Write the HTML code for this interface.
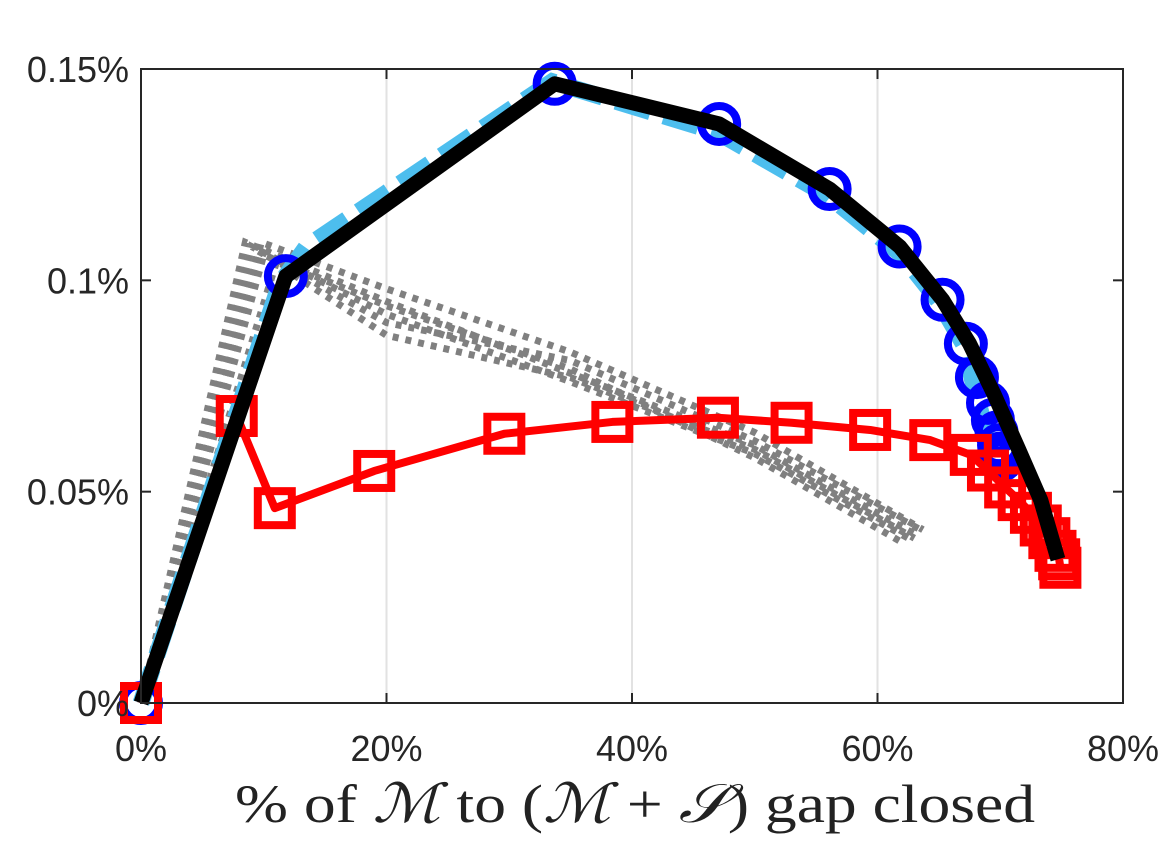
<!DOCTYPE html>
<html><head><meta charset="utf-8"><style>
body{margin:0;background:#fff;}
svg{display:block;}
</style></head><body>
<svg id="chart" width="1172" height="859" font-family="Liberation Sans, sans-serif">
<g id="grid"></g><g id="series"></g><g id="axes"></g>
<text x="235" y="822" textLength="800" lengthAdjust="spacingAndGlyphs" font-family="Liberation Serif, DejaVu Serif, serif" font-size="54" fill="#222">% of <tspan font-style="italic">ℳ</tspan> to (<tspan font-style="italic">ℳ</tspan> + <tspan font-style="italic">𝒮</tspan>) gap closed</text>
</svg>
<script>
const xTicks=[0,20,40,60,80];
const xTickLabels=['0%','20%','40%','60%','80%'];
const yTicks=[0,0.05,0.1,0.15];
const yTickLabels=['0%','0.05%','0.1%','0.15%'];
const cyanX=[0,11.3,13.5,33.5,47.0,56.0,62.0,65.0,67.0,69.0];
const cyanY=[0,0.099,0.108,0.147,0.135,0.120,0.106,0.095,0.085,0.062];
const blueX=[0,11.8,33.7,47.1,56.1,61.8,65.3,67.2,68.1,69.0,69.4,69.7,69.9,70.0,70.1];
const blueY=[0,0.101,0.1465,0.137,0.1216,0.108,0.0954,0.085,0.0771,0.071,0.067,0.064,0.061,0.059,0.0575];
const blackX=[0,11.8,33.7,47.1,56.1,61.8,65.3,67.5,69.5,71.5,73.3,74.7];
const blackY=[0,0.101,0.1465,0.137,0.1216,0.108,0.0954,0.085,0.073,0.060,0.048,0.034];
const redX=[0,7.8,10.9,19.0,29.6,38.4,47.0,53.0,59.4,64.3,67.6,69.0,70.4,71.5,72.5,73.3,74.0,74.5,74.8,74.9];
const redY=[0,0.0679,0.0461,0.0549,0.0637,0.0665,0.0675,0.0663,0.0646,0.0622,0.0587,0.055,0.051,0.048,0.045,0.042,0.039,0.036,0.034,0.032];
const grayX=[[0,8.5,20,35,50,63],[0,9,20,35,50,62.5],[0,9.5,20,35,50,63.5],[0,10,20,35,50,62],[0,11,20,35,50,63],[0,9.8,20,35,50,63.7]];
const grayY=[[0,0.109,0.095,0.078,0.061,0.040],[0,0.108,0.092,0.076,0.059,0.039],[0,0.107,0.090,0.081,0.062,0.041],[0,0.106,0.094,0.079,0.058,0.038],[0,0.104,0.087,0.077,0.060,0.039],[0,0.109,0.098,0.083,0.064,0.041]];

const L=141,R=1123,T=69,B=703;
const sx=v=>L+v/80*(R-L);
const sy=v=>B-v/0.15*(B-T);
const NS='http://www.w3.org/2000/svg';
function mk(tag,attrs,parent){const e=document.createElementNS(NS,tag);for(const k in attrs)e.setAttribute(k,attrs[k]);parent.appendChild(e);return e;}
const grid=document.getElementById('grid'),ser=document.getElementById('series'),ax=document.getElementById('axes');
xTicks.forEach((t,i)=>{
  if(t>0&&t<80){const g=mk('line',{x1:sx(t),x2:sx(t),y1:T,y2:B,stroke:'#e2e2e2','stroke-width':2},grid);
  
  }
  const tl=mk('text',{x:sx(t),y:B+58,'text-anchor':'middle','font-size':36,fill:'#262626'},ax);
  tl.textContent=xTickLabels[i];
  
  
  mk('line',{x1:sx(t),x2:sx(t),y1:B,y2:B-10,stroke:'#262626','stroke-width':2},ax);
  mk('line',{x1:sx(t),x2:sx(t),y1:T,y2:T+10,stroke:'#262626','stroke-width':2},ax);
});
yTicks.forEach((t,i)=>{
  const tl=mk('text',{x:L-12,y:sy(t)+13,'text-anchor':'end','font-size':36,fill:'#262626'},ax);
  tl.textContent=yTickLabels[i];
  
  
  mk('line',{x1:L,x2:L+10,y1:sy(t),y2:sy(t),stroke:'#262626','stroke-width':2},ax);
  mk('line',{x1:R,x2:R-10,y1:sy(t),y2:sy(t),stroke:'#262626','stroke-width':2},ax);
});
const box=mk('rect',{x:L,y:T,width:R-L,height:B-T,fill:'none',stroke:'#262626','stroke-width':2},ax);


const pts=(xs,ys)=>xs.map((x,i)=>sx(x)+','+sy(ys[i])).join(' ');
grayX.forEach((xs,k)=>{
  const p=mk('polyline',{points:pts(xs,grayY[k]),fill:'none',stroke:'#808080','stroke-width':7,'stroke-dasharray':'6 7'},ser);
  
  
});
const cy=mk('polyline',{points:pts(cyanX,cyanY),fill:'none',stroke:'#4DBEEE','stroke-width':17,'stroke-dasharray':'36 14'},ser);


blueX.forEach((x,i)=>{
  const c=mk('circle',{cx:sx(x),cy:sy(blueY[i]),r:18,fill:'none',stroke:'#0000FF','stroke-width':8},ser);
  
  
});
const rl=mk('polyline',{points:pts(redX,redY),fill:'none',stroke:'#FF0000','stroke-width':8,'stroke-linejoin':'round'},ser);


redX.forEach((x,i)=>{
  const r=mk('rect',{x:sx(x)-17,y:sy(redY[i])-17,width:34,height:34,fill:'none',stroke:'#FF0000','stroke-width':8},ser);
  
  
});
const bl=mk('polyline',{points:pts(blackX,blackY),fill:'none',stroke:'#000','stroke-width':15,'stroke-linejoin':'round'},ser);


</script>
</body></html>
